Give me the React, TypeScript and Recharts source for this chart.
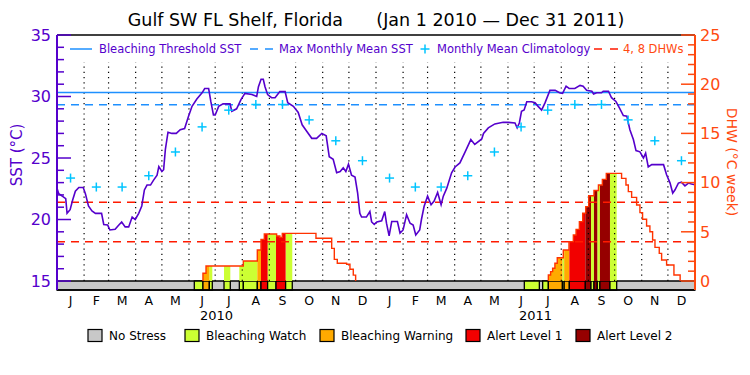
import React from 'react';
import { ComposedChart, Line, Area, Scatter, XAxis, YAxis, ReferenceLine, ReferenceArea } from 'recharts';

const FONT = '"DejaVu Sans", sans-serif';
const PURPLE = '#5500cc';
const ORANGE = '#ff4a10';
const BLUE = '#1e90ff';
const CYAN = '#00c4ff';
const DHW_RED = '#ff3300';
const DASH_RED = '#ff1a00';

// ---------- data ----------
const monthLetters = ['J', 'F', 'M', 'A', 'M', 'J', 'J', 'A', 'S', 'O', 'N', 'D'];
const monthLengths = [31, 28, 31, 30, 31, 30, 31, 31, 30, 31, 30, 31];
const yearLabels = ['2010', '2011'];

// days since Jan 1 2010
const sstDays = [
  0, 2, 6, 10, 11.5, 15, 18, 21, 25, 30,
  32.5, 36, 40, 44, 51, 53.5, 58, 60.5, 66.5, 70,
  74, 78, 82, 86, 89.5, 93.5, 97, 100, 103, 107,
  110.5, 114.5, 116.5, 120, 122, 124, 127, 131.5, 136.5, 141,
  146, 150.5, 154.5, 160, 166, 169, 173.5, 176, 179, 181,
  185, 190, 198, 200, 205.5, 210.5, 215, 223, 228.5, 230.5,
  233.5, 236, 238, 241, 245.5, 249.5, 255, 261, 264, 270.5,
  276, 280.5, 285.5, 291.5, 297, 303, 308, 311.5, 316, 320,
  324, 327.5, 330.5, 333.5, 337, 341, 344, 346.5, 348.5, 354,
  358, 360, 363, 366, 371.5, 375, 377, 380, 383, 389.5,
  392.5, 396, 400, 404, 407.5, 410.5, 415, 417, 420, 424,
  428, 431.5, 435.5, 439.5, 442, 446, 451.5, 455.5, 461, 467,
  473.5, 478, 486, 488, 493.5, 501, 510.5, 516.5, 524, 526.5,
  529, 531.5, 534.5, 537.5, 543, 547, 550.5, 554.5, 558.5, 564,
  570, 575, 578.5, 582.5, 586, 592.5, 598.5, 602, 606, 612,
  614, 617.5, 623, 625, 631, 634.5, 639.5, 643.5, 648, 652,
  655.5, 659.5, 662.5, 667, 671, 673.5, 676.5, 680.5, 694, 697.5,
  701.5, 704.5, 707, 711, 714.5, 718.5, 722.5, 726, 730,
];
const sstValues = [
  22.55, 22.1, 21.9, 21.7, 20.5, 20.8, 21.6, 22.3, 22.6, 22.6,
  22.1, 21.1, 20.7, 20.5, 20.5, 19.6, 19.55, 19.15, 19.2, 19.5,
  19.8, 19.4, 19.4, 20.2, 20.0, 20.5, 21.1, 22.4, 22.8, 22.8,
  23.2, 23.6, 24.3, 23.9, 24.05, 25.7, 27.1, 27.0, 27.0, 27.3,
  27.4, 28.4, 29.2, 29.8, 30.3, 30.65, 30.65, 29.6, 28.5, 28.5,
  29.2, 29.4, 29.4, 28.8, 29.0, 29.75, 30.25, 30.16, 30.0, 30.8,
  31.4, 31.4, 30.8, 30.16, 29.9, 29.9, 30.4, 30.4, 29.5, 29.2,
  28.7, 27.7, 27.2, 26.6, 26.6, 27.0, 26.8, 25.1, 24.9, 23.8,
  23.9, 24.2, 23.9, 24.5, 23.6, 23.45, 22.15, 20.5, 20.2, 20.2,
  20.65, 19.8, 19.6, 19.8, 19.9, 20.65, 19.7, 18.67, 19.84, 19.84,
  18.9, 19.15, 20.4, 19.7, 19.56, 18.75, 19.15, 20.0, 21.06, 21.9,
  21.2, 21.5, 22.2, 21.2, 21.9, 22.55, 23.8, 24.27, 24.6, 25.5,
  26.5, 26.1, 26.55, 27.0, 27.45, 27.77, 27.9, 27.9, 27.85, 27.45,
  27.85, 28.8, 28.9, 29.57, 29.57, 29.5, 29.2, 28.9, 29.5, 30.5,
  30.5, 30.3, 30.25, 30.84, 30.65, 30.65, 30.9, 30.84, 30.5, 30.43,
  30.2, 30.3, 30.3, 30.43, 30.43, 29.9, 29.6, 29.08, 28.45, 28.4,
  27.3, 26.5, 25.6, 25.5, 25.0, 25.4, 24.27, 24.46, 24.46, 23.64,
  22.96, 22.15, 22.4, 22.96, 23.04, 22.74, 22.96, 22.88, 22.83,
];

const climatology = [23.37, 22.64, 22.64, 23.56, 25.49, 27.53, 28.89, 29.35, 29.35, 28.1, 26.4, 24.78];
const maxMonthlyMean = 29.33;
const bleachingThreshold = 30.33;
const dhwLevels = [4, 8];

const sstTickValues = [15, 16, 17, 18, 19, 20, 21, 22, 23, 24, 25, 26, 27, 28, 29, 30, 31, 32, 33, 34, 35];
const dhwTickValues = [0, 1, 2, 3, 4, 5, 6, 7, 8, 9, 10, 11, 12, 13, 14, 15, 16, 17, 18, 19, 20, 21, 22, 23, 24, 25];

// DHW step series (step start day, value); last value 0 ends the episode
const dhwDays2010 = [167, 170.5, 213.2, 229.2, 233.4, 237.2, 251.3, 255, 257.8, 296.3, 314.3, 317.3, 320.7, 331.4, 335.2, 339, 341.7];
const dhwValues2010 = [0.78, 1.52, 2.03, 3.15, 4.23, 4.78, 4.57, 4.43, 4.84, 4.34, 3.32, 2.2, 1.8, 1.7, 1.19, 0.6, 0];
const dhwDays2011 = [562.2, 564.8, 567.1, 569.7, 572.4, 579.3, 585.8, 590.8, 593.9, 597.7, 601.5, 605, 608.4, 614.4, 619.5, 624, 628.5, 646, 651, 653.7, 657.5, 663.2, 667, 670, 674.6, 678.4, 681.5, 684.2, 689.1, 691.8, 697.5, 705.9, 713];
const dhwValues2011 = [0.61, 0.95, 1.29, 1.8, 2.37, 3.15, 4.0, 4.68, 5.25, 6.03, 6.88, 7.55, 8.67, 9.2, 9.76, 10.33, 10.94, 10.43, 9.76, 9.08, 8.5, 7.72, 6.95, 6.27, 5.59, 5.01, 4.17, 3.42, 2.81, 2.13, 1.63, 0.61, 0];

// Stress periods: 1 watch, 2 warning, 3 alert 1, 4 alert 2
const stressStart = [157.1, 167, 174.3, 191.1, 208.6, 213.2, 229.2, 233.4, 241, 250.6, 261.6,
  534.7, 555.7, 562.2, 578.3, 580.3, 586.2, 604.5, 611, 614.4, 618.2, 621.2, 632.7];
const stressEnd = [167, 174.3, 177.7, 198.3, 213.2, 229.2, 233.4, 241, 250.6, 261.6, 269.2,
  551.9, 562.2, 578.3, 580.3, 586.2, 604.5, 611, 614.4, 618.2, 621.2, 632.7, 640.4];
const stressLevel = [1, 2, 1, 1, 1, 1, 2, 3, 1, 3, 1,
  1, 1, 2, 1, 2, 3, 4, 1, 4, 1, 4, 1];

const stressNames = ['No Stress', 'Bleaching Watch', 'Bleaching Warning', 'Alert Level 1', 'Alert Level 2'];
const stressColors = ['#c8c8c8', '#ccff33', '#ffaa00', '#f20000', '#960000'];

// ---------- layout constants ----------
const SST_MIN = 14.27;
const DHW_MIN = -0.915;
const DOT_TOP = 32.78;

// ---------- derived tables ----------
const monthStarts: number[] = [];
{
  let acc = 0;
  for (let y = 0; y < yearLabels.length; y++) {
    for (let m = 0; m < 12; m++) { monthStarts.push(acc); acc += monthLengths[m]; }
  }
}
const totalDays = monthStarts[monthStarts.length - 1] + monthLengths[11];
const monthMids = monthStarts.map((s, i) => s + monthLengths[i % 12] / 2);
const monthBoundaries = monthStarts.slice(1);
const yearMids = yearLabels.map((_, y) => {
  const s = monthStarts[y * 12];
  const e = y + 1 < yearLabels.length ? monthStarts[(y + 1) * 12] : totalDays;
  return (s + e) / 2;
});
const xTicks = [...monthMids, ...yearMids];

const sstData = sstDays.map((d, i) => ({ day: d, sst: sstValues[i] }));
const climData = monthMids.map((d, i) => ({ day: d, sst: climatology[i % 12] }));

const episodes = [
  { days: dhwDays2010, vals: dhwValues2010 },
  { days: dhwDays2011, vals: dhwValues2011 },
];

const dhwAt = (day: number) => {
  for (const ep of episodes) {
    if (day >= ep.days[0] && day < ep.days[ep.days.length - 1]) {
      let v = 0;
      for (let i = 0; i < ep.days.length; i++) if (ep.days[i] <= day) v = ep.vals[i];
      return v;
    }
  }
  return 0;
};
const levelAt = (day: number) => {
  for (let i = 0; i < stressStart.length; i++) if (day >= stressStart[i] && day < stressEnd[i]) return stressLevel[i];
  return 0;
};

const dhwLineData: { day: number; dhw: number | null }[] = [];
episodes.forEach((ep) => {
  dhwLineData.push({ day: ep.days[0], dhw: 0 });
  ep.days.forEach((d, i) => dhwLineData.push({ day: d, dhw: ep.vals[i] }));
  dhwLineData.push({ day: ep.days[ep.days.length - 1] + 0.01, dhw: null });
});

const breakSet = new Set<number>([0, totalDays]);
episodes.forEach((ep) => ep.days.forEach((d) => breakSet.add(d)));
stressStart.forEach((d) => breakSet.add(d));
stressEnd.forEach((d) => breakSet.add(d));
const fillData = Array.from(breakSet).sort((a, b) => a - b).map((d) => {
  const v = dhwAt(d);
  const l = levelAt(d);
  const row: any = { day: d };
  for (let k = 1; k <= 4; k++) row['f' + k] = l === k ? v : 0;
  return row;
});

// ---------- renderers ----------
const LeftTick = (props: any) => {
  const { x, y, payload } = props;
  const v = payload.value;
  const major = v % 5 === 0;
  const ax = x + 6;
  return (
    <g>
      <line x1={ax} x2={ax + (major ? 14 : 7)} y1={y} y2={y} stroke={PURPLE} strokeWidth={1.5} />
      {major && (
        <text x={x} y={y} dy="0.36em" textAnchor="end" fill={PURPLE} fontSize={16} fontFamily={FONT}>{v}</text>
      )}
    </g>
  );
};

const RightTick = (props: any) => {
  const { x, y, payload } = props;
  const v = payload.value;
  const major = v % 5 === 0;
  const ax = x - 5;
  return (
    <g>
      <line x1={ax} x2={ax - (major ? 14 : 7)} y1={y} y2={y} stroke={ORANGE} strokeWidth={1.5} />
      {major && (
        <text x={x} y={y} dy="0.36em" textAnchor="start" fill={ORANGE} fontSize={16} fontFamily={FONT}>{v}</text>
      )}
    </g>
  );
};

const XTick = (props: any) => {
  const { x, y, payload } = props;
  const v = payload.value;
  const yi = yearMids.findIndex((m) => Math.abs(m - v) < 0.001);
  if (yi >= 0) {
    return <text x={x} y={y + 30} textAnchor="middle" fontSize={13} fontFamily={FONT} fill="#000">{yearLabels[yi]}</text>;
  }
  const mi = monthMids.findIndex((m) => Math.abs(m - v) < 0.001);
  return <text x={x} y={y + 15} textAnchor="middle" fontSize={12.5} fontFamily={FONT} fill="#000">{monthLetters[mi % 12]}</text>;
};

const PlusShape = (props: any) => {
  const { cx, cy } = props;
  const a = 4.5;
  return (
    <g stroke={CYAN} strokeWidth={1.5}>
      <line x1={cx - a} x2={cx + a} y1={cy} y2={cy} />
      <line x1={cx} x2={cx} y1={cy - a} y2={cy + a} />
    </g>
  );
};

const bottomLegendX = [88, 185, 320, 466, 576];

export default function App() {
  return (
    <div style={{ position: 'absolute', left: 0, top: 0, width: 750, height: 375, background: '#fff' }}>
      <ComposedChart width={750} height={375} margin={{ top: 35, right: 0, bottom: 0, left: 0 }}>
        <XAxis
          dataKey="day"
          type="number"
          domain={[0, totalDays]}
          ticks={xTicks}
          interval={0}
          tick={<XTick />}
          tickLine={false}
          tickSize={0}
          tickMargin={0}
          height={85}
          axisLine={{ stroke: '#000', strokeWidth: 1.5 }}
          allowDataOverflow
        />
        <YAxis
          yAxisId="sst"
          dataKey="sst"
          type="number"
          orientation="left"
          domain={[SST_MIN, 35]}
          ticks={sstTickValues}
          interval={0}
          width={57}
          tick={<LeftTick />}
          tickLine={false}
          tickSize={0}
          tickMargin={6}
          axisLine={{ stroke: PURPLE, strokeWidth: 2 }}
          allowDataOverflow
        />
        <YAxis
          yAxisId="dhw"
          type="number"
          orientation="right"
          domain={[DHW_MIN, 25]}
          ticks={dhwTickValues}
          interval={0}
          width={55}
          tick={<RightTick />}
          tickLine={false}
          tickSize={0}
          tickMargin={5}
          axisLine={{ stroke: ORANGE, strokeWidth: 2 }}
          allowDataOverflow
        />

        {/* stress bar */}
        <ReferenceArea yAxisId="sst" x1={0} x2={totalDays} y1={SST_MIN} y2={15} fill={stressColors[0]} fillOpacity={1} stroke="#000" strokeWidth={1.3} />
        {stressStart.map((s, i) => (
          <ReferenceArea key={'s' + i} yAxisId="sst" x1={s} x2={stressEnd[i]} y1={SST_MIN} y2={15}
            fill={stressColors[stressLevel[i]]} fillOpacity={1} stroke="#000" strokeWidth={1.3} />
        ))}

        {/* DHW fills by stress level */}
        {[1, 2, 3, 4].map((k) => (
          <Area key={'f' + k} data={fillData} dataKey={'f' + k} yAxisId="dhw" type="stepAfter" baseValue={0}
            stroke="none" fill={stressColors[k]} fillOpacity={1} dot={false} activeDot={false} isAnimationActive={false} />
        ))}

        {/* month dotted lines */}
        {monthBoundaries.map((b) => (
          <ReferenceLine key={'m' + b} yAxisId="sst" segment={[{ x: b, y: 15 }, { x: b, y: DOT_TOP }]}
            stroke="#000" strokeWidth={1.2} strokeDasharray="1.2 4" />
        ))}

        <ReferenceLine yAxisId="sst" y={bleachingThreshold} stroke={BLUE} strokeWidth={1.5} />
        <ReferenceLine yAxisId="sst" y={maxMonthlyMean} stroke={BLUE} strokeWidth={1.5} strokeDasharray="8 6" />
        {dhwLevels.map((l) => (
          <ReferenceLine key={'d' + l} yAxisId="dhw" y={l} stroke={DASH_RED} strokeWidth={1.5} strokeDasharray="8 6" />
        ))}
        <ReferenceLine yAxisId="sst" y={35} stroke="#000" strokeWidth={1.5} />

        <Line data={dhwLineData} dataKey="dhw" yAxisId="dhw" type="stepAfter" stroke={DHW_RED} strokeWidth={1.4}
          dot={false} activeDot={false} connectNulls={false} isAnimationActive={false} />
        <Line data={sstData} dataKey="sst" yAxisId="sst" type="linear" stroke={PURPLE} strokeWidth={1.6}
          dot={false} activeDot={false} isAnimationActive={false} />
        <Scatter data={climData} dataKey="sst" yAxisId="sst" shape={<PlusShape />} isAnimationActive={false} />
      </ComposedChart>

      <svg width={750} height={375} style={{ position: 'absolute', left: 0, top: 0, pointerEvents: 'none' }}
        fontFamily={FONT}>
        <text x={376} y={26} textAnchor="middle" fontSize={17.5} fill="#000" style={{ whiteSpace: 'pre' }}>
          {'Gulf SW FL Shelf, Florida      (Jan 1 2010 \u2014 Dec 31 2011)'}
        </text>

        {/* top legend */}
        <line x1={70} x2={92} y1={49} y2={49} stroke={BLUE} strokeWidth={1.5} />
        <text x={99} y={53} fontSize={11.5} fill={PURPLE}>Bleaching Threshold SST</text>
        <line x1={250} x2={273} y1={49} y2={49} stroke={BLUE} strokeWidth={1.5} strokeDasharray="8 7" />
        <text x={279} y={53} fontSize={11.5} fill={PURPLE}>Max Monthly Mean SST</text>
        <g stroke={CYAN} strokeWidth={1.5}>
          <line x1={420.5} x2={429.5} y1={49} y2={49} />
          <line x1={425} x2={425} y1={44.5} y2={53.5} />
        </g>
        <text x={437} y={53} fontSize={11.5} fill={PURPLE}>Monthly Mean Climatology</text>
        <line x1={594} x2={618} y1={49} y2={49} stroke={DASH_RED} strokeWidth={1.5} strokeDasharray="8 8" />
        <text x={623} y={53} fontSize={11.5} fill={ORANGE}>4, 8 DHWs</text>

        {/* axis titles */}
        <text x={0} y={0} transform="translate(22,155) rotate(-90)" textAnchor="middle" fontSize={15} fill={PURPLE}>SST (°C)</text>
        <text x={0} y={0} transform="translate(727,162) rotate(90)" textAnchor="middle" fontSize={14} fill={ORANGE}>DHW (°C week)</text>

        {/* bottom legend */}
        {stressNames.map((n, i) => (
          <g key={n}>
            <rect x={bottomLegendX[i]} y={329.5} width={14} height={12} fill={stressColors[i]} stroke="#000" strokeWidth={1.2} />
            <text x={bottomLegendX[i] + 21} y={340} fontSize={12} fill="#000">{n}</text>
          </g>
        ))}
      </svg>
    </div>
  );
}
